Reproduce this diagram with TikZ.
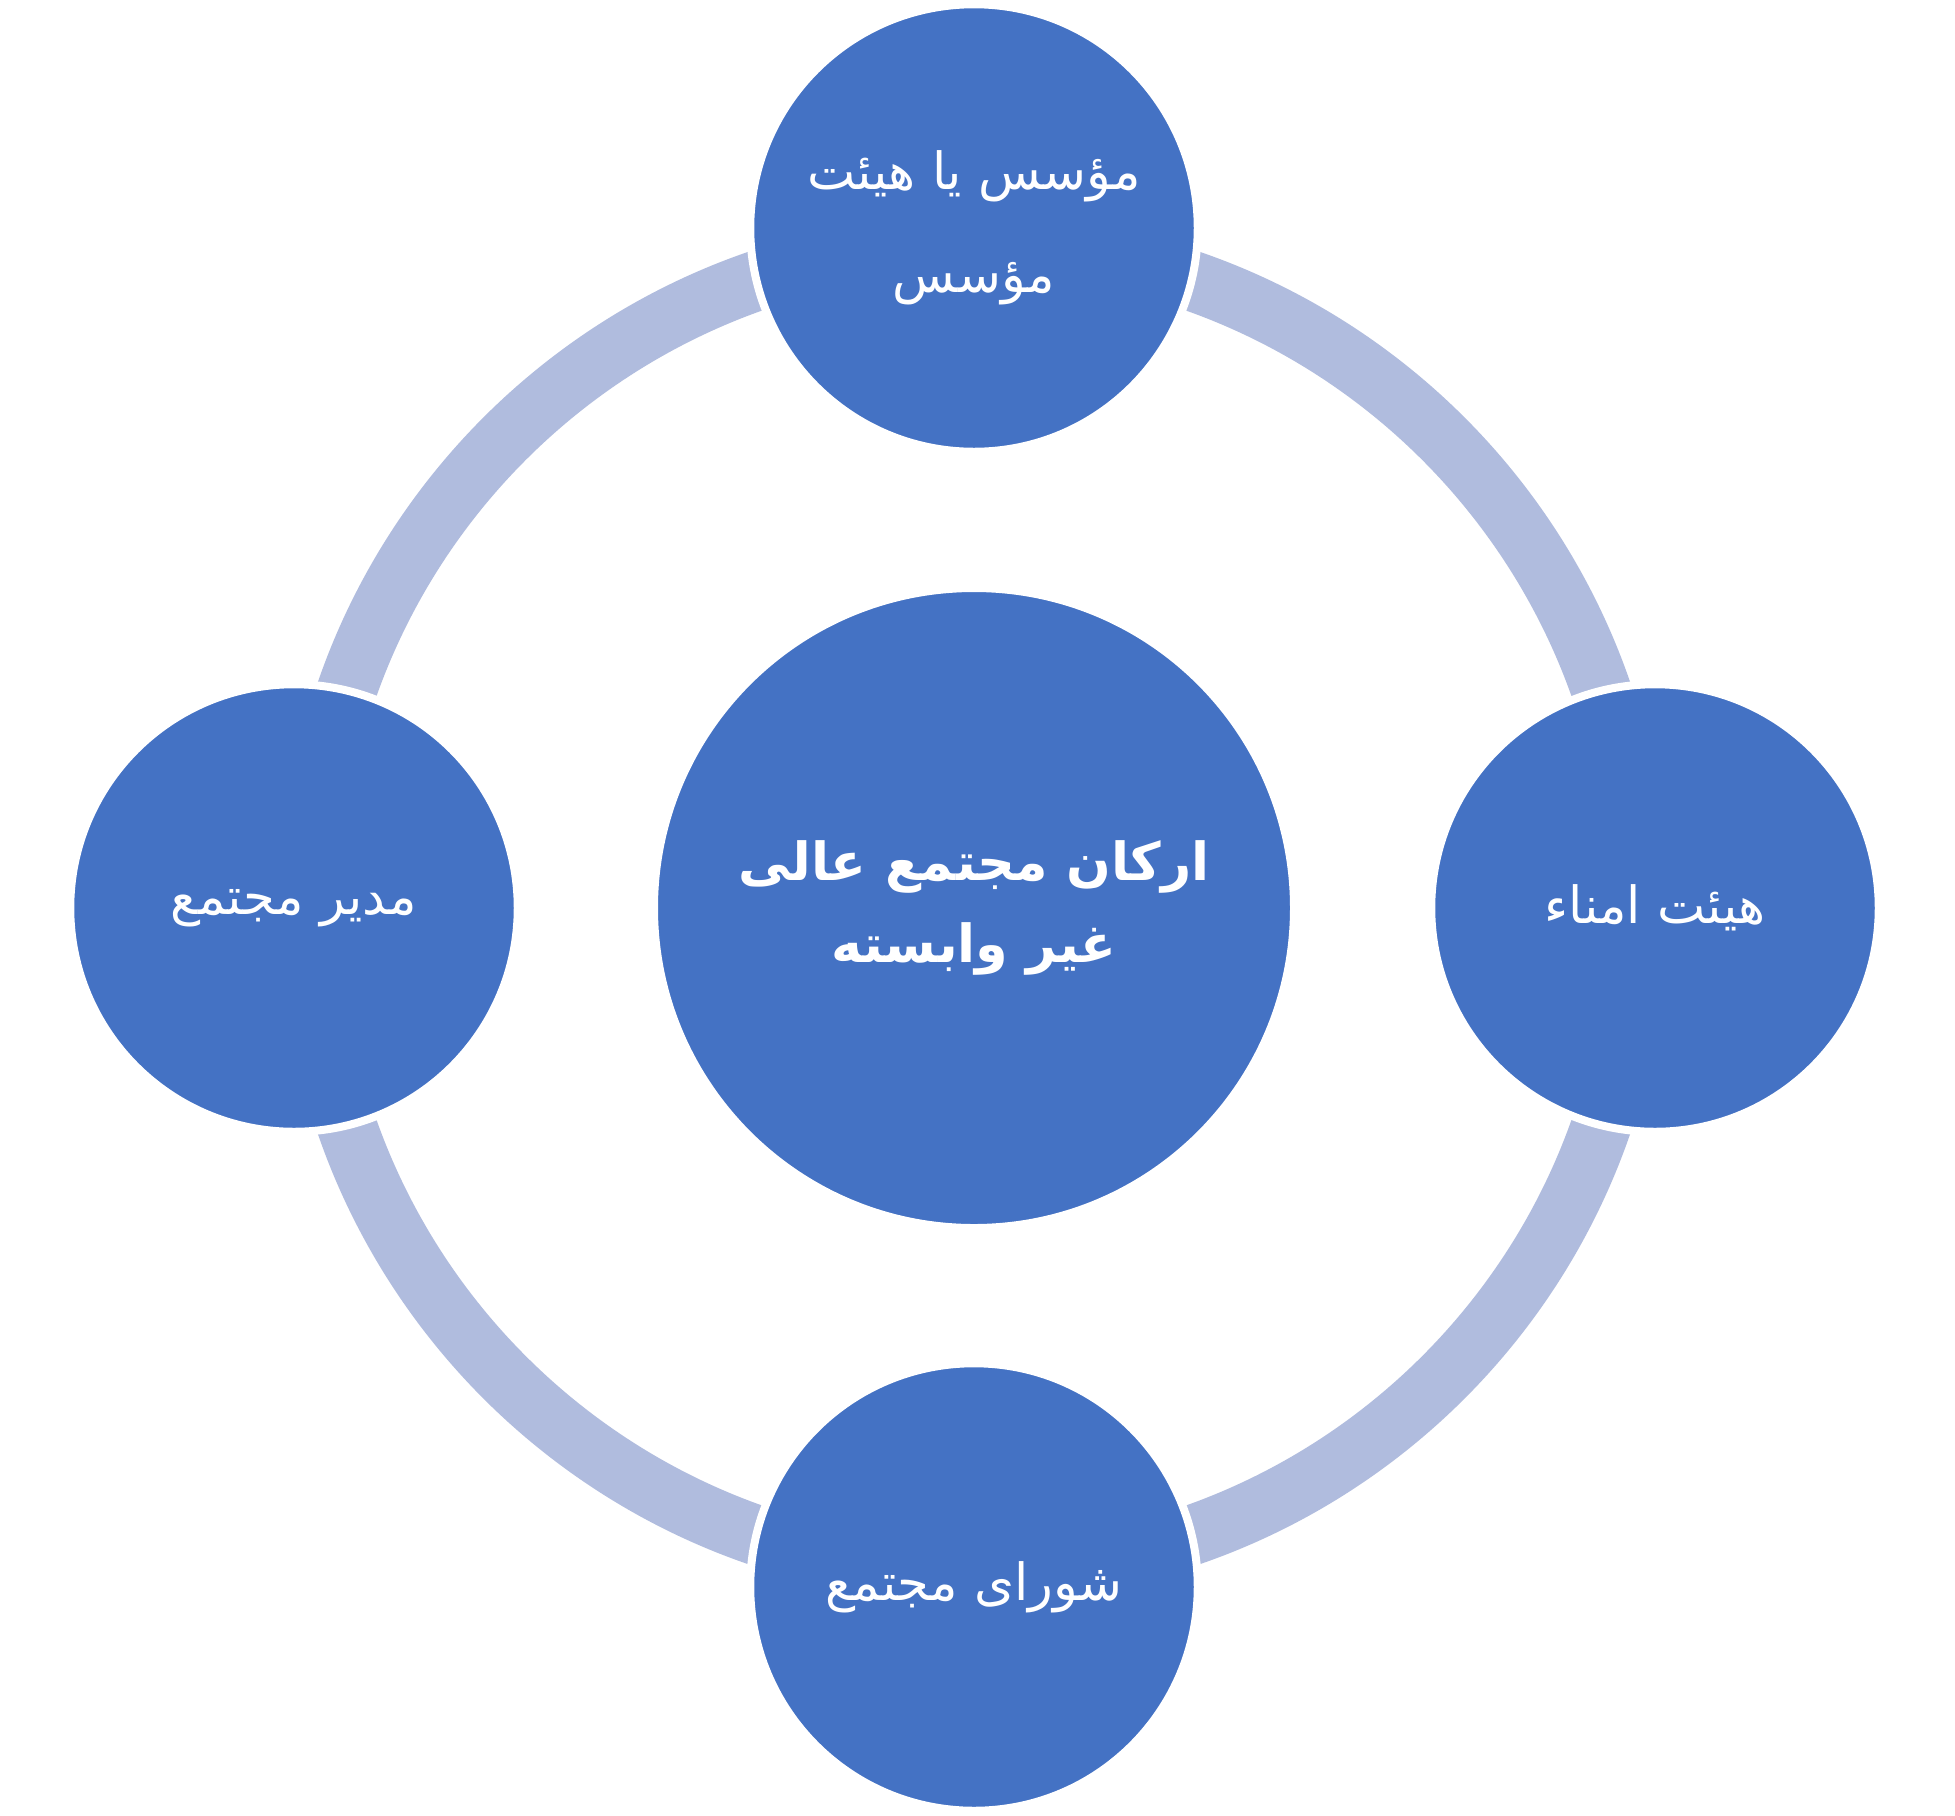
\documentclass[tikz,border=0pt]{standalone}
\usepackage{fontspec}
\newfontfamily\arabicfont[Script=Arabic]{DejaVu Sans}
\TeXXeTstate=1
\definecolor{nodeblue}{RGB}{68,114,196}
\definecolor{ringblue}{RGB}{176,188,222}
\begin{document}
\begin{tikzpicture}[x=0.4pt,y=-0.4pt,
  member/.style={circle,fill=nodeblue,draw=white,line width=3.2pt,minimum size=179pt,inner sep=0pt,text=white,font=\arabicfont\fontsize{20.5}{41}\selectfont,align=center},
  hub/.style={circle,fill=nodeblue,draw=white,line width=3.2pt,minimum size=256pt,inner sep=0pt,text=white,font=\arabicfont\bfseries\fontsize{21}{33}\selectfont,align=center},
  ring/.style={draw=ringblue,line width=24pt}]
\fill[white] (0,0) rectangle (1955,1815);
\useasboundingbox (0,0) rectangle (1955,1815);
\coordinate (c) at (974,908);
\node[circle,ring,minimum size=531pt,inner sep=0pt] (ringc) at (c) {};
\node[hub] (center) at (c) {\beginR اركان مجتمع عالی\endR\\\beginR غیر وابسته\endR};
\node[member] (top) at (974,228) {\beginR مؤسس یا هیئت\endR\\\beginR مؤسس\endR};
\node[member] (right) at (1655,908) {\beginR هیئت امناء\endR};
\node[member] (bottom) at (974,1587) {\beginR شورای مجتمع\endR};
\node[member] (left) at (294,908) {\beginR مدیر مجتمع\endR};
\end{tikzpicture}
\end{document}
